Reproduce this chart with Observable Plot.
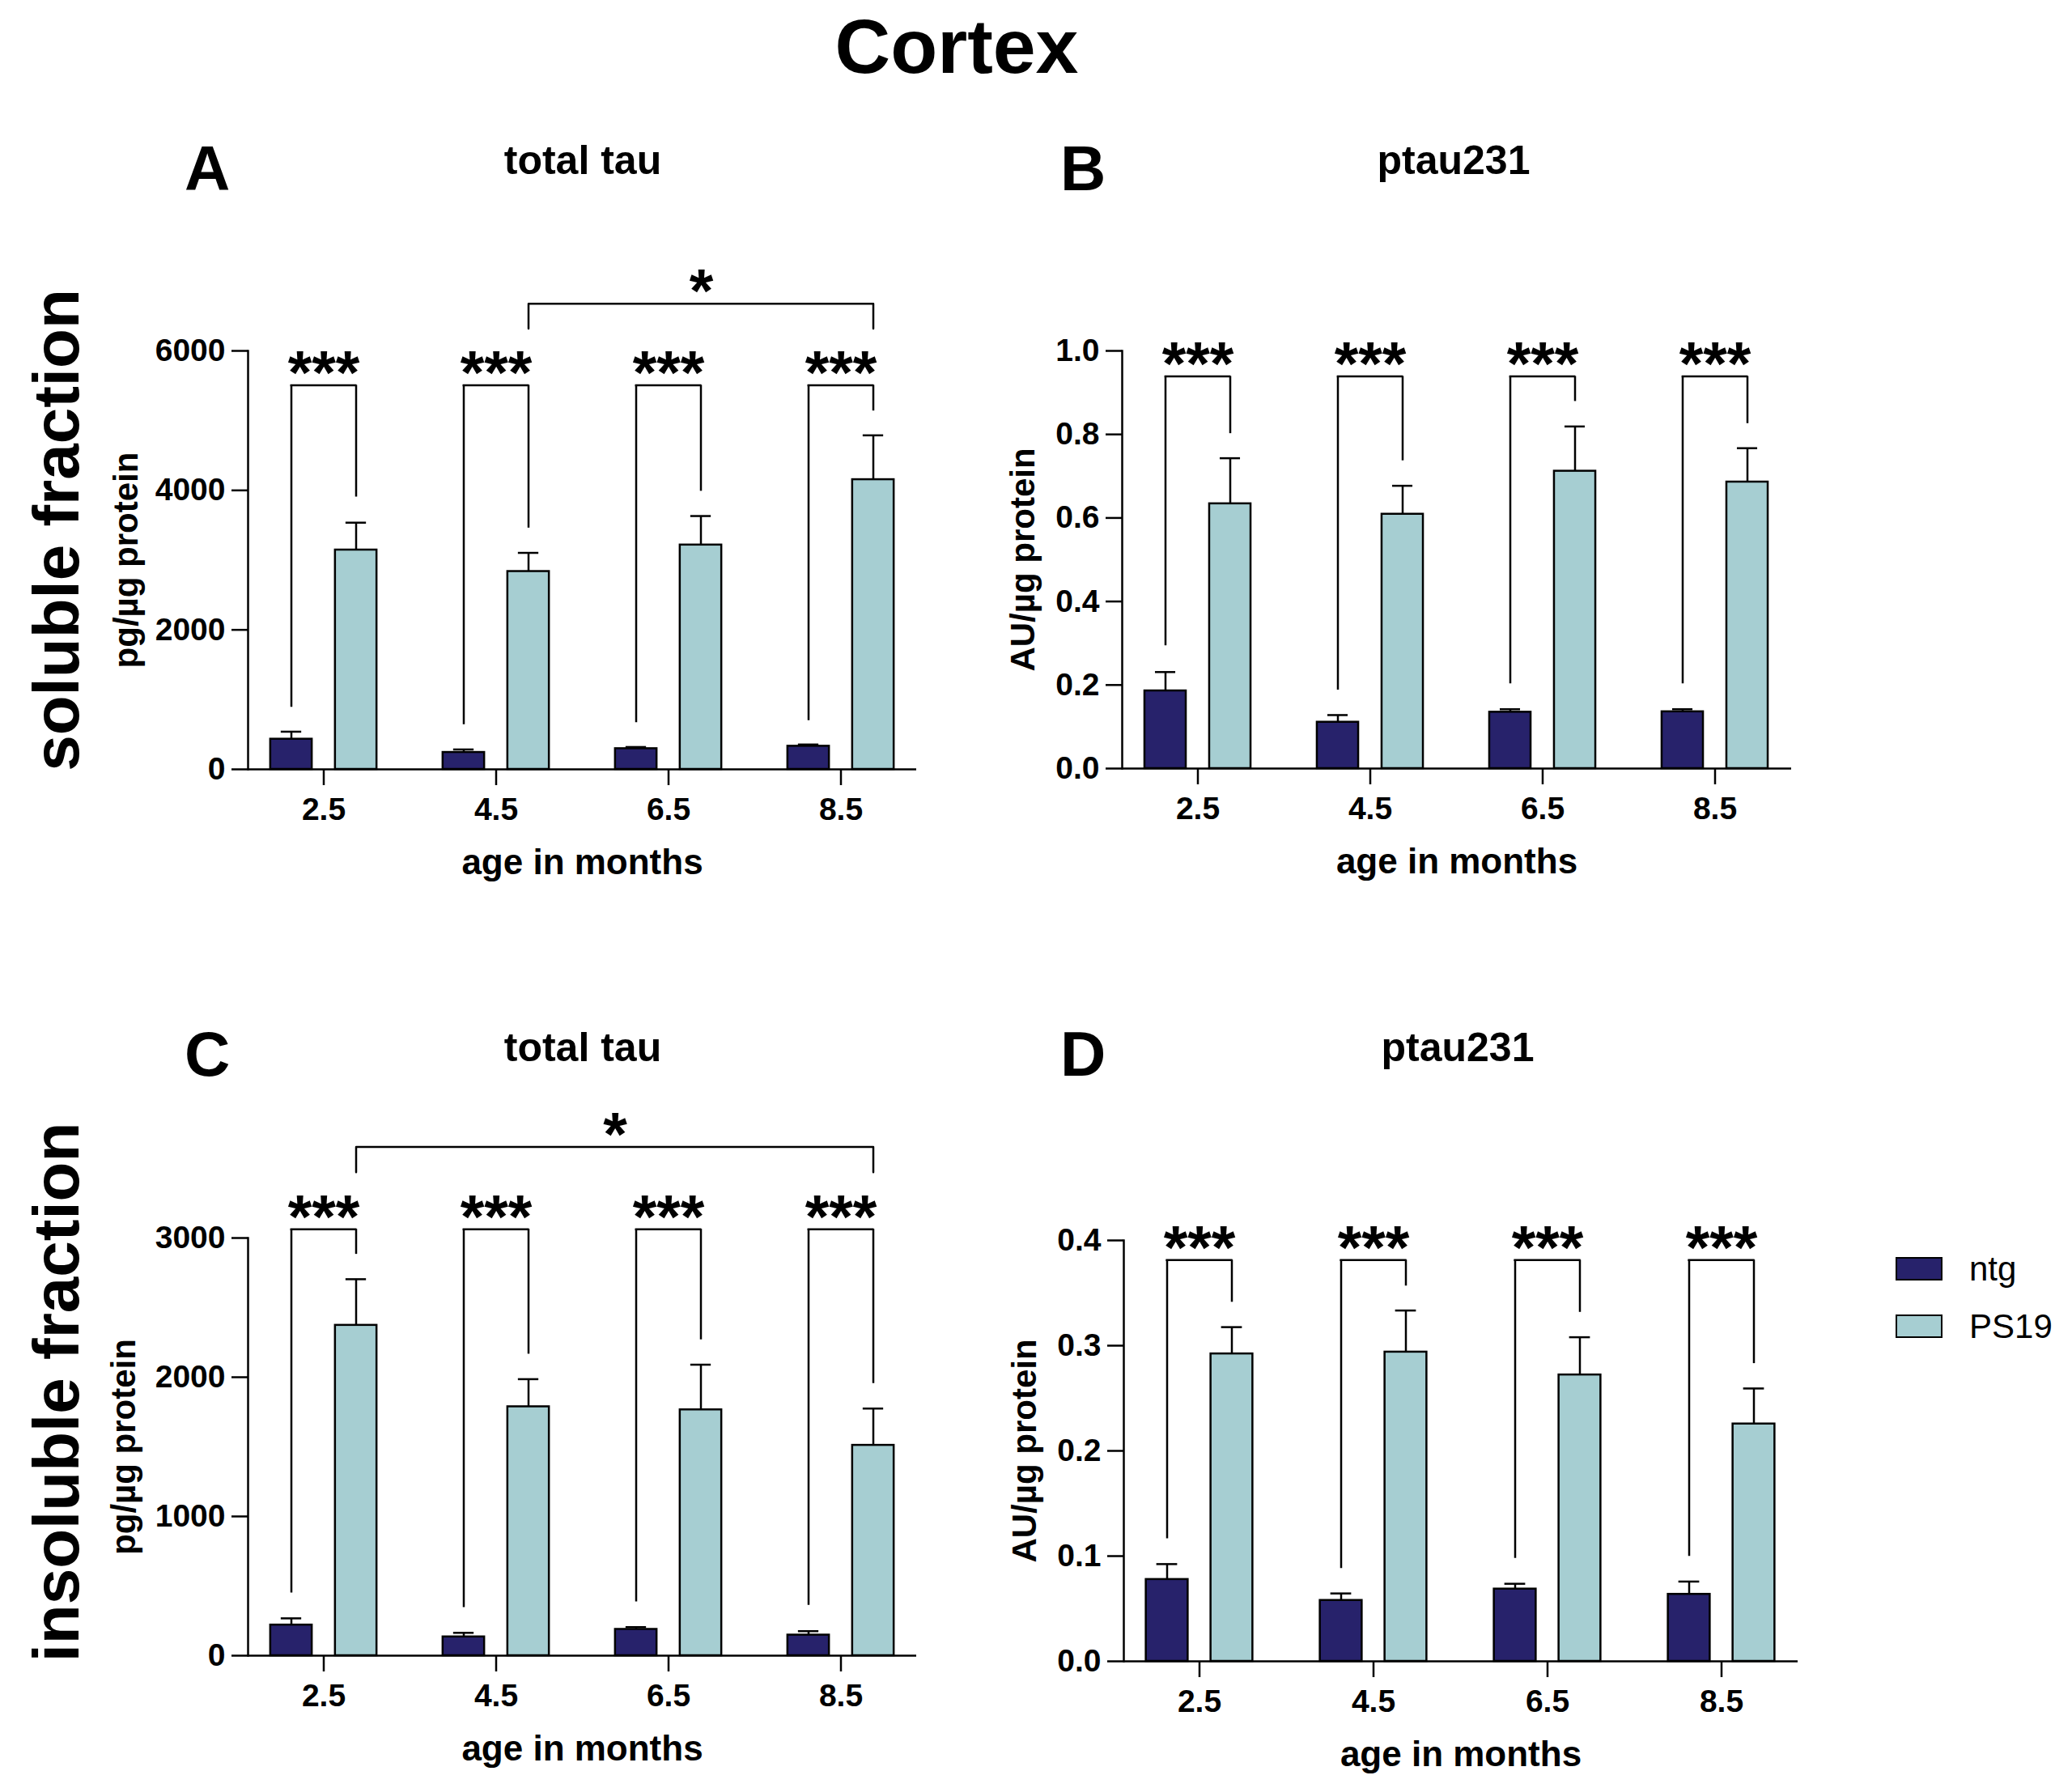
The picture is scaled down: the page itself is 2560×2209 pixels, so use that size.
<!DOCTYPE html>
<html><head><meta charset="utf-8">
<script src="https://cdn.jsdelivr.net/npm/d3@7"></script>
<script src="https://cdn.jsdelivr.net/npm/@observablehq/plot@0.6"></script>
<style>
html,body{margin:0;padding:0;background:#fff;}
#fig{position:relative;width:2560px;height:2209px;background:#fff;overflow:hidden;font-family:"Liberation Sans",Arial,Helvetica,sans-serif;}
#fig svg{position:absolute;}
</style></head><body><div id="fig"></div>
<script>
// ---------- categories ----------
const ages = ["2.5", "4.5", "6.5", "8.5"];
const groups = ["ntg", "PS19"];
const groupColors = ["#27226b", "#a6ced2"];

// ---------- A: soluble fraction, total tau (pg/µg protein) ----------
const solTotalNtg = [433, 243, 297, 332];
const solTotalNtgSem = [107, 42, 23, 24];
const solTotalPS19 = [3145, 2837, 3217, 4154];
const solTotalPS19Sem = [392, 267, 415, 635];
const solTotalTicks = [0, 2000, 4000, 6000];
const solTotalBracketTop = 5507;
const solTotalLegNtg = [890, 641, 671, 700];
const solTotalLegPS19 = [3905, 3460, 3988, 5139];
const solTotalLong = {from: "4.5", to: "8.5", top: 6676, leg: 6320, label: "*"};

// ---------- B: soluble fraction, ptau231 (AU/µg protein) ----------
const solPtauNtg = [0.186, 0.111, 0.135, 0.136];
const solPtauNtgSem = [0.045, 0.017, 0.007, 0.006];
const solPtauPS19 = [0.634, 0.609, 0.712, 0.686];
const solPtauPS19Sem = [0.109, 0.068, 0.107, 0.081];
const solPtauTicks = [0, 0.2, 0.4, 0.6, 0.8, 1.0];
const solPtauBracketTop = 0.939;
const solPtauLegNtg = [0.294, 0.188, 0.203, 0.203];
const solPtauLegPS19 = [0.802, 0.737, 0.879, 0.826];

// ---------- C: insoluble fraction, total tau (pg/µg protein) ----------
const insTotalNtg = [220, 135, 189, 148];
const insTotalNtgSem = [48, 29, 16, 28];
const insTotalPS19 = [2373, 1788, 1766, 1511];
const insTotalPS19Sem = [331, 198, 324, 264];
const insTotalTicks = [0, 1000, 2000, 3000];
const insTotalBracketTop = 3063;
const insTotalLegNtg = [450, 346, 387, 362];
const insTotalLegPS19 = [2883, 2166, 2269, 1955];
const insTotalLong = {from: "2.5", to: "8.5", top: 3654, leg: 3472, label: "*"};

// ---------- D: insoluble fraction, ptau231 (AU/µg protein) ----------
const insPtauNtg = [0.0778, 0.0579, 0.0687, 0.0637];
const insPtauNtgSem = [0.0146, 0.0066, 0.0050, 0.0121];
const insPtauPS19 = [0.2922, 0.2939, 0.2722, 0.2256];
const insPtauPS19Sem = [0.0254, 0.0395, 0.0358, 0.0337];
const insPtauTicks = [0, 0.1, 0.2, 0.3, 0.4];
const insPtauBracketTop = 0.3813;
const insPtauLegNtg = [0.1165, 0.0882, 0.0978, 0.0999];
const insPtauLegPS19 = [0.3413, 0.3567, 0.3317, 0.2830];

const sig = "***";
const xLabel = "age in months";

// ---------- drawing ----------
const fig = document.getElementById("fig");
const FONT = "'Liberation Sans', Arial, Helvetica, sans-serif";
const LW = 2.5;
const STAR_SIZE = 76, STAR_DY = 10;

function panel(cfg) {
  const pi = 0.13;
  const plotW = cfg.x1 - cfg.x0;
  const step = plotW / (ages.length - pi);
  const bw = step * (1 - pi);
  const off = 40, barW = 52, capW = 26;
  const rows = ages.flatMap((a, i) => [
    {age: a, g: "ntg", v: cfg.ntg[i], e: cfg.ntg[i] + cfg.ntgSem[i]},
    {age: a, g: "PS19", v: cfg.ps[i], e: cfg.ps[i] + cfg.psSem[i]}
  ]);
  const marks = [];
  groups.forEach((g, k) => {
    const d = rows.filter(r => r.g === g);
    const dx = k ? off : -off;
    marks.push(Plot.ruleX(d, {x: "age", y1: "v", y2: "e", dx, stroke: "black", strokeWidth: LW}));
    marks.push(Plot.tickY(d, {x: "age", y: "e", dx, insetLeft: (bw - capW) / 2, insetRight: (bw - capW) / 2, stroke: "black", strokeWidth: LW}));
    marks.push(Plot.barY(d, {x: "age", y: "v", dx, fill: groupColors[k], stroke: "black", strokeWidth: LW,
      insetLeft: (bw - barW) / 2, insetRight: (bw - barW) / 2}));
  });
  const br = ages.map((a, i) => ({age: a, top: cfg.brTop, ln: cfg.legNtg[i], lp: cfg.legPS[i]}));
  marks.push(Plot.ruleX(br, {x: "age", y1: "ln", y2: "top", dx: -off, stroke: "black", strokeWidth: LW}));
  marks.push(Plot.ruleX(br, {x: "age", y1: "lp", y2: "top", dx: off, stroke: "black", strokeWidth: LW}));
  marks.push(Plot.tickY(br, {x: "age", y: "top", insetLeft: bw / 2 - off, insetRight: bw / 2 - off, stroke: "black", strokeWidth: LW, strokeLinecap: "square"}));
  marks.push(Plot.text(br, {x: "age", y: "top", text: () => sig, dy: STAR_DY, lineAnchor: "bottom", fontSize: STAR_SIZE, fontWeight: "bold"}));
  if (cfg.long) {
    const L = cfg.long;
    const pts = [{x: L.from, y: L.leg}, {x: L.from, y: L.top}, {x: L.to, y: L.top}, {x: L.to, y: L.leg}];
    marks.push(Plot.line(pts, {x: "x", y: "y", dx: off, stroke: "black", strokeWidth: LW}));
    const span = ages.indexOf(L.to) - ages.indexOf(L.from);
    marks.push(Plot.text([L], {x: "from", y: "top", text: "label", dx: off + step * span / 2, dy: STAR_DY, lineAnchor: "bottom", fontSize: STAR_SIZE, fontWeight: "bold"}));
  }
  marks.push(Plot.ruleY([0], {stroke: "black", strokeWidth: LW}));
  marks.push(Plot.frame({anchor: "left", stroke: "black", strokeWidth: LW}));
  marks.push(Plot.axisX({tickSize: 20, tickPadding: 15, fontSize: 39, strokeWidth: LW, label: null}));
  marks.push(Plot.axisY({ticks: cfg.ticks, tickFormat: cfg.fmt, tickSize: 20, tickPadding: 8, fontSize: 39, strokeWidth: LW, label: null}));
  marks.push(Plot.text([cfg.ylabel], {text: d => d, frameAnchor: "left", rotate: -90, dx: cfg.ylabelX - cfg.x0, textAnchor: "middle", lineAnchor: "middle", fontSize: 42, fontWeight: "bold"}));
  marks.push(Plot.text([xLabel], {text: d => d, frameAnchor: "bottom", dy: 115, textAnchor: "middle", lineAnchor: "middle", fontSize: 44, fontWeight: "bold"}));

  const svg = Plot.plot({
    width: cfg.width, height: cfg.height,
    marginLeft: cfg.x0 - cfg.left,
    marginRight: cfg.left + cfg.width - cfg.x1,
    marginTop: cfg.yTop - cfg.top,
    marginBottom: cfg.top + cfg.height - cfg.yBot,
    style: {fontFamily: FONT, fontWeight: "bold", background: "transparent", overflow: "visible", maxWidth: "none", color: "black"},
    x: {type: "band", domain: ages, paddingInner: pi, paddingOuter: 0},
    y: {domain: [cfg.ticks[0], cfg.ticks[cfg.ticks.length - 1]]},
    marks
  });
  svg.style.left = cfg.left + "px";
  svg.style.top = cfg.top + "px";
  fig.appendChild(svg);
}

panel({left: 0, top: 0, width: 1280, height: 1104, x0: 306, x1: 1132, yTop: 433, yBot: 950,
  ticks: solTotalTicks, fmt: d3.format("d"), ylabel: "pg/µg protein", ylabelX: 156,
  ntg: solTotalNtg, ntgSem: solTotalNtgSem, ps: solTotalPS19, psSem: solTotalPS19Sem,
  brTop: solTotalBracketTop, legNtg: solTotalLegNtg, legPS: solTotalLegPS19, long: solTotalLong});
panel({left: 1180, top: 0, width: 1380, height: 1104, x0: 1386, x1: 2213, yTop: 433, yBot: 949,
  ticks: solPtauTicks, fmt: d3.format(".1f"), ylabel: "AU/µg protein", ylabelX: 1264,
  ntg: solPtauNtg, ntgSem: solPtauNtgSem, ps: solPtauPS19, psSem: solPtauPS19Sem,
  brTop: solPtauBracketTop, legNtg: solPtauLegNtg, legPS: solPtauLegPS19});
panel({left: 0, top: 1104, width: 1280, height: 1105, x0: 306, x1: 1132, yTop: 1529, yBot: 2045,
  ticks: insTotalTicks, fmt: d3.format("d"), ylabel: "pg/µg protein", ylabelX: 153,
  ntg: insTotalNtg, ntgSem: insTotalNtgSem, ps: insTotalPS19, psSem: insTotalPS19Sem,
  brTop: insTotalBracketTop, legNtg: insTotalLegNtg, legPS: insTotalLegPS19, long: insTotalLong});
panel({left: 1180, top: 1104, width: 1380, height: 1105, x0: 1388, x1: 2221, yTop: 1532, yBot: 2052,
  ticks: insPtauTicks, fmt: d3.format(".1f"), ylabel: "AU/µg protein", ylabelX: 1266,
  ntg: insPtauNtg, ntgSem: insPtauNtgSem, ps: insPtauPS19, psSem: insPtauPS19Sem,
  brTop: insPtauBracketTop, legNtg: insPtauLegNtg, legPS: insPtauLegPS19});

// ---------- figure-level text and legend ----------
const ov = d3.select(fig).append("svg")
  .attr("width", 2560).attr("height", 2209)
  .style("left", "0px").style("top", "0px")
  .attr("font-family", FONT);
const txt = (s, x, y, size, opts = {}) => ov.append("text")
  .attr("x", x).attr("y", y).attr("font-size", size)
  .attr("font-weight", opts.weight || "bold")
  .attr("text-anchor", opts.anchor || "middle")
  .attr("transform", opts.rotate ? `rotate(${opts.rotate},${x},${y})` : null)
  .text(s);
txt("Cortex", 1182, 90, 95);
txt("A", 228, 235, 78, {anchor: "start"});
txt("total tau", 720, 215, 50);
txt("B", 1310, 235, 78, {anchor: "start"});
txt("ptau231", 1796, 215, 50);
txt("C", 228, 1329, 78, {anchor: "start"});
txt("total tau", 720, 1311, 50);
txt("D", 1310, 1329, 78, {anchor: "start"});
txt("ptau231", 1801, 1311, 50);
txt("soluble fraction", 97, 655, 80, {rotate: -90});
txt("insoluble fraction", 97, 1720, 80, {rotate: -90});

groups.forEach((g, k) => {
  const y = 1554 + k * 71;
  ov.append("rect").attr("x", 2343).attr("y", y).attr("width", 56).attr("height", 27)
    .attr("fill", groupColors[k]).attr("stroke", "black").attr("stroke-width", 2);
  txt(g, 2433, y + 28, 42, {anchor: "start", weight: "normal"});
});
</script>
</body></html>
